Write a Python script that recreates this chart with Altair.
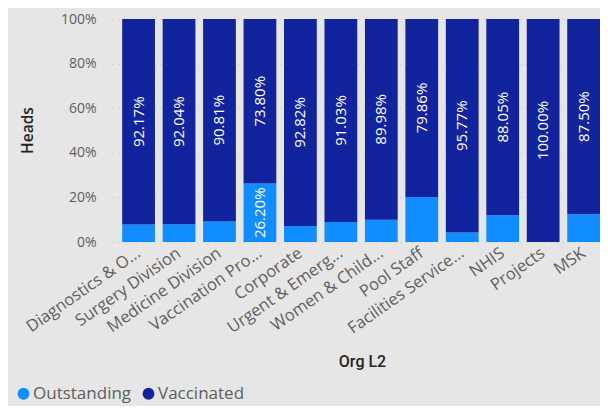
import altair as alt
import pandas as pd

categories = ["Diagnostics & O...", "Surgery Division", "Medicine Division", "Vaccination Pro...",
              "Corporate", "Urgent & Emerg...", "Women & Child...", "Pool Staff",
              "Facilities Service...", "NHIS", "Projects", "MSK"]
outstanding = [7.83, 7.96, 9.19, 26.20, 7.18, 8.97, 10.02, 20.14, 4.23, 11.95, 0.00, 12.50]
vaccinated = [92.17, 92.04, 90.81, 73.80, 92.82, 91.03, 89.98, 79.86, 95.77, 88.05, 100.00, 87.50]
statuses = ["Outstanding", "Vaccinated"]
colors = ["#118DFF", "#12239E"]
y_ticks = [0, 20, 40, 60, 80, 100]

rows = []
for c, o, v in zip(categories, outstanding, vaccinated):
    rows.append({"org": c, "status": "Outstanding", "value": o, "ord": 0})
    rows.append({"org": c, "status": "Vaccinated", "value": v, "ord": 1})
df = pd.DataFrame(rows)

FONT = "Open Sans"

x = alt.X("org:N", sort=categories,
          scale=alt.Scale(paddingInner=0.19, paddingOuter=0.2, align=1),
          axis=alt.Axis(title="Org L2", labelAngle=-35, labelAlign="right", labelBaseline="middle",
                        labelPadding=9, ticks=False, domain=False, labelFont=FONT, labelFontSize=16.5,
                        labelColor="#605e5c", labelLimit=220,
                        titleFont="Roboto", titleFontWeight=500, titleFontSize=16, titleColor="#252423",
                        titleX=256, titleY=119, titleBaseline="middle"))

bars = alt.Chart(df).mark_bar().encode(
    x=x,
    y=alt.Y("value:Q", stack="zero", scale=alt.Scale(domain=[0, 100], nice=False),
            axis=alt.Axis(title="Heads", values=y_ticks, labelExpr="datum.value + '%'",
                          ticks=False, domain=False, labelPadding=10, labelFont=FONT,
                          labelFontSize=14, labelColor="#605e5c",
                          grid=True, gridColor="#c4c4c4", gridDash=[1, 5], gridWidth=1,
                          titleFont=FONT, titleFontWeight=600, titleFontSize=15.5, titleColor="#252423",
                          titleAngle=270, titleX=-79, titleY=111, titleBaseline="middle",
                          titleAlign="center")),
    color=alt.Color("status:N", scale=alt.Scale(domain=statuses, range=colors),
                    legend=alt.Legend(title=None, orient="none", direction="horizontal",
                                      legendX=-91, legendY=366, symbolType="circle", symbolSize=140,
                                      labelFont=FONT, labelFontSize=17, labelColor="#605e5c",
                                      columnPadding=8, symbolOffset=0, labelOffset=1)),
    order=alt.Order("ord:Q"),
)

labels = alt.Chart(df).transform_stack(
    stack="value", groupby=["org"], sort=[alt.SortField("ord")], as_=["y0", "y1"]
).transform_calculate(
    mid="(datum.y0 + datum.y1) / 2",
    txt="format(datum.value, '.2f') + '%'"
).transform_filter(
    "datum.value >= 22"
).mark_text(angle=270, color="white", font=FONT, fontSize=15, baseline="middle", align="center").encode(
    x=alt.X("org:N", sort=categories),
    y=alt.Y("mid:Q"),
    text="txt:N",
)

chart = (bars + labels).properties(
    width=494, height=223,
    autosize="none",
    padding={"left": 98, "top": 11, "right": 0, "bottom": 164},
    background="#e6e6e6",
).configure_view(stroke=None)

chart.save("out.html", embed_options={"renderer": "svg", "actions": False})
